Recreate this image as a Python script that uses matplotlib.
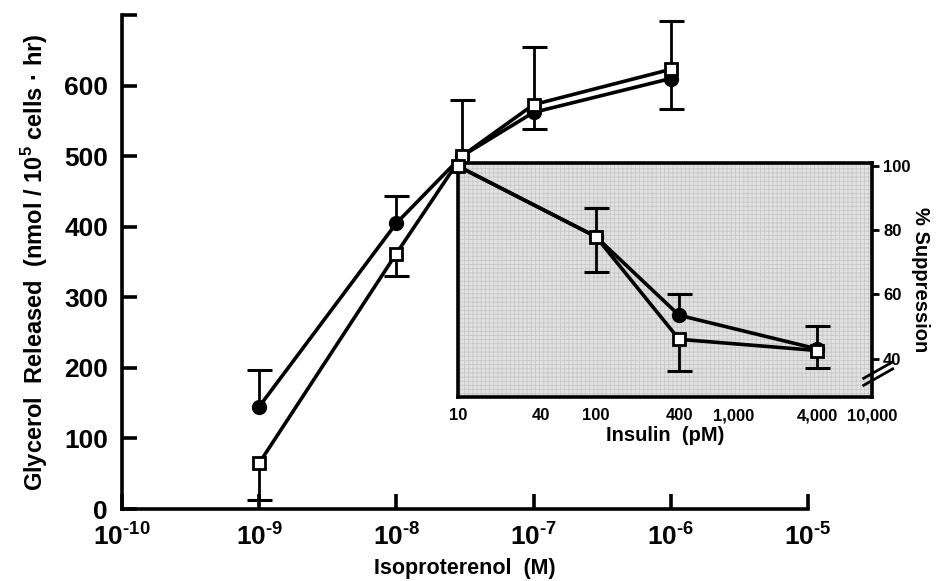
import numpy as np
import matplotlib.pyplot as plt

plt.rcParams['font.family'] = ['Liberation Sans', 'DejaVu Sans']
plt.rcParams['font.weight'] = 'bold'
plt.rcParams['mathtext.fontset'] = 'custom'
plt.rcParams['mathtext.rm'] = 'Liberation Sans:bold'
plt.rcParams['mathtext.bf'] = 'Liberation Sans:bold'
plt.rcParams['hatch.linewidth'] = 0.6

# main panel: glycerol release vs isoproterenol
iso_conc = [1e-9, 1e-8, 3e-8, 1e-7, 1e-6]
glyc_filled = [145, 405, 500, 562, 610]
glyc_open = [65, 362, 500, 573, 623]
filled_err_top = [197, 443, np.nan, np.nan, np.nan]
filled_err_bottom = [np.nan, np.nan, np.nan, 539, 567]
open_err_top = [np.nan, np.nan, 580, 655, 692]
open_err_bottom = [13, 330, np.nan, np.nan, np.nan]
iso_ticks = [1e-10, 1e-9, 1e-8, 1e-7, 1e-6, 1e-5]
iso_labels = [r'$10^{\text{-}10}$', r'$10^{\text{-}9}$', r'$10^{\text{-}8}$',
              r'$10^{\text{-}7}$', r'$10^{\text{-}6}$', r'$10^{\text{-}5}$']
glyc_ticks = [0, 100, 200, 300, 400, 500, 600, 700]
glyc_labels = ['0', '100', '200', '300', '400', '500', '600', '']

# inset: % suppression vs insulin
insulin = [10, 100, 400, 4000]
supp_filled = [100, 78, 53.5, 43]
supp_open = [100, 78, 46, 42.5]
supp_filled_top = [np.nan, 87, 60, 50]
supp_filled_bottom = [np.nan, 67, np.nan, 37]
supp_open_bottom = [np.nan, np.nan, 36, np.nan]
ins_ticks = [10, 40, 100, 400, 1000, 4000, 10000]
ins_labels = ['10', '40', '100', '400', '1,000', '4,000', '10,000']
supp_ticks = [40, 60, 80, 100]


def draw_err(ax, xs, ys, ends):
    xs, ys, ends = np.asarray(xs), np.asarray(ys, float), np.asarray(ends, float)
    m = ~np.isnan(ends)
    ax.vlines(xs[m], ys[m], ends[m], color='black', lw=2, zorder=2)
    ax.plot(xs[m], ends[m], ls='none', marker='_', ms=18, mew=2.2, color='black', zorder=2)


def draw_series(ax, xs, ys_f, ys_o):
    ax.plot(xs, ys_f, color='black', lw=2.6, marker='o', ms=10, mfc='black', mec='black', zorder=3)
    ax.plot(xs, ys_o, color='black', lw=2.6, marker='s', ms=9, mfc='white', mec='black', mew=2, zorder=4)


fig = plt.figure(figsize=(9.36, 5.81), dpi=100)
ax = fig.add_axes([0.1303, 0.1239, 0.7329, 0.8503])
ax.set_xscale('log')
ax.set_xlim(1e-10, 1e-5)
ax.set_ylim(0, 700)

draw_err(ax, iso_conc, glyc_filled, filled_err_top)
draw_err(ax, iso_conc, glyc_filled, filled_err_bottom)
draw_err(ax, iso_conc, glyc_open, open_err_top)
draw_err(ax, iso_conc, glyc_open, open_err_bottom)
draw_series(ax, iso_conc, glyc_filled, glyc_open)

for s in ['top', 'right']:
    ax.spines[s].set_visible(False)
for s in ['left', 'bottom']:
    ax.spines[s].set_linewidth(2.6)
ax.set_xticks(iso_ticks, iso_labels)
ax.xaxis.set_minor_locator(plt.NullLocator())
ax.set_yticks(glyc_ticks, glyc_labels)
ax.tick_params(direction='in', length=11, width=2.6, labelsize=19)
ax.tick_params(axis='x', pad=9)
ax.tick_params(axis='y', pad=10)
ax.set_xlabel('Isoproterenol  (M)', fontsize=15.5, fontweight='bold', labelpad=6)
ax.set_ylabel('Glycerol  Released  (nmol / 10$^{5}$ cells · hr)', fontsize=17,
              fontweight='bold', labelpad=10)

# inset
ins = fig.add_axes([0.4893, 0.3167, 0.4423, 0.4028])
ins.set_facecolor('#e2e2e2')
ins.patch.set_hatch('++++')
ins.patch.set_edgecolor('#c8c8c8')
ins.set_xscale('log')
ins.set_xlim(10, 10000)
ins.set_ylim(28, 101)

draw_err(ins, insulin, supp_filled, supp_filled_top)
draw_err(ins, insulin, supp_filled, supp_filled_bottom)
draw_err(ins, insulin, supp_open, supp_open_bottom)
draw_series(ins, insulin, supp_filled, supp_open)
for l in ins.get_lines():
    l.set_clip_on(False)

for s in ins.spines.values():
    s.set_linewidth(2.6)
ins.set_xticks(ins_ticks, ins_labels)
ins.set_xticks([40, 1000], minor=True)
ins.tick_params(axis='x', which='major', length=0, labelsize=12, pad=8)
ins.tick_params(axis='x', which='minor', direction='in', length=6, width=2.6)
ins.yaxis.tick_right()
ins.yaxis.set_label_position('right')
ins.set_yticks(supp_ticks)
ins.tick_params(axis='y', direction='out', length=5, width=2, labelsize=12, pad=3)
ins.set_xlabel('Insulin  (pM)', fontsize=14.5, fontweight='bold', labelpad=2)
ins.set_ylabel('% Suppression', fontsize=14.5, fontweight='bold', rotation=-90, labelpad=14)

# axis break mark on the right spine
for dy in (0, 0.03):
    ins.plot([0.98, 1.05], [0.05 + dy, 0.12 + dy], transform=ins.transAxes,
             color='black', lw=2, clip_on=False)

fig.savefig('out.png', dpi=100)
